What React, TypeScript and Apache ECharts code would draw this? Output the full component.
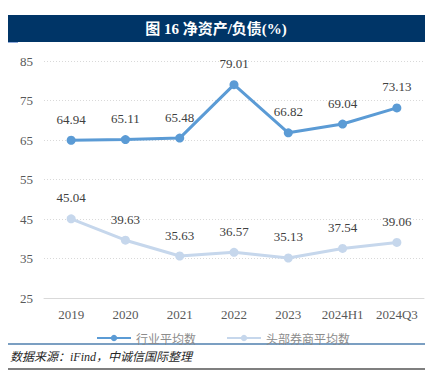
import React, { useEffect, useRef } from "react";
import * as echarts from "echarts";

const categories = ["2019", "2020", "2021", "2022", "2023", "2024H1", "2024Q3"];
const industryAvg = [64.94, 65.11, 65.48, 79.01, 66.82, 69.04, 73.13];
const topBrokerAvg = [45.04, 39.63, 35.63, 36.57, 35.13, 37.54, 39.06];
const seriesNames = ["行业平均数", "头部券商平均数"];
const titleText = "图 16 净资产/负债(%)";
const sourceText = "数据来源：iFind，中诚信国际整理";

const serif = "'Liberation Serif', 'Times New Roman', serif";

export default function App() {
  const ref = useRef<HTMLDivElement>(null);
  useEffect(() => {
    document.body.style.margin = "0";
    const chart = echarts.init(ref.current!, null, { renderer: "svg" });
    chart.setOption({
      animation: false,
      backgroundColor: "#ffffff",
      grid: { left: 44, right: 22, top: 61, bottom: 77 },
      xAxis: {
        type: "category",
        data: categories,
        axisLine: { lineStyle: { color: "#d9d9d9", width: 1 } },
        axisTick: { show: false },
        axisLabel: { color: "#595959", fontFamily: serif, fontSize: 13, margin: 10, interval: 0, hideOverlap: false },
      },
      yAxis: {
        type: "value",
        min: 25,
        max: 85,
        interval: 10,
        axisLine: { show: false },
        axisTick: { show: false },
        axisLabel: { color: "#595959", fontFamily: serif, fontSize: 13, margin: 11 },
        splitLine: { lineStyle: { color: "#d9d9d9", type: [1, 2], width: 1 } },
      },
      legend: {
        top: 327,
        left: "center",
        itemWidth: 34,
        itemHeight: 8,
        itemGap: 30,
        textStyle: { color: "#8c8c8c", fontSize: 12, fontFamily: "'Noto Sans CJK SC', sans-serif" },
        data: seriesNames,
      },
      series: [
        {
          name: seriesNames[0],
          type: "line",
          data: industryAvg,
          symbol: "circle",
          symbolSize: 9,
          lineStyle: { color: "#5b9bd5", width: 3 },
          itemStyle: { color: "#5b9bd5" },
          label: {
            show: true,
            position: "top",
            distance: 10,
            color: "#404040",
            fontFamily: serif,
            fontSize: 13,
            formatter: (p: any) => p.value.toFixed(2),
          },
        },
        {
          name: seriesNames[1],
          type: "line",
          data: topBrokerAvg,
          symbol: "circle",
          symbolSize: 9,
          lineStyle: { color: "#c6d7ec", width: 3 },
          itemStyle: { color: "#c6d7ec" },
          label: {
            show: true,
            position: "top",
            distance: 10,
            color: "#404040",
            fontFamily: serif,
            fontSize: 13,
            formatter: (p: any) => p.value.toFixed(2),
          },
        },
      ],
      graphic: [
        {
          type: "rect",
          shape: { x: 8, y: 15, width: 417, height: 27 },
          style: { fill: "#003567" },
        },
        {
          type: "rect",
          shape: { x: 8, y: 42, width: 10, height: 1 },
          style: { fill: "#8faadc" },
        },
        {
          type: "text",
          x: 216,
          y: 29,
          style: {
            text: titleText,
            fill: "#ffffff",
            font: `bold 15px ${serif}, 'Noto Sans CJK SC'`,
            align: "center",
            verticalAlign: "middle",
          },
        },
        {
          type: "line",
          shape: { x1: 8, y1: 344, x2: 425, y2: 344 },
          style: { stroke: "#4f7fae", lineWidth: 1.5 },
        },
        {
          type: "text",
          x: 10,
          y: 357,
          style: {
            text: sourceText,
            fill: "#262626",
            font: `italic 12px ${serif}, 'Noto Sans CJK SC'`,
            verticalAlign: "middle",
          },
        },
        {
          type: "line",
          shape: { x1: 8, y1: 369, x2: 425, y2: 369 },
          style: { stroke: "#000000", lineWidth: 1.2 },
        },
      ],
    });
    return () => chart.dispose();
  }, []);
  return <div ref={ref} style={{ width: 446, height: 375 }} />;
}
